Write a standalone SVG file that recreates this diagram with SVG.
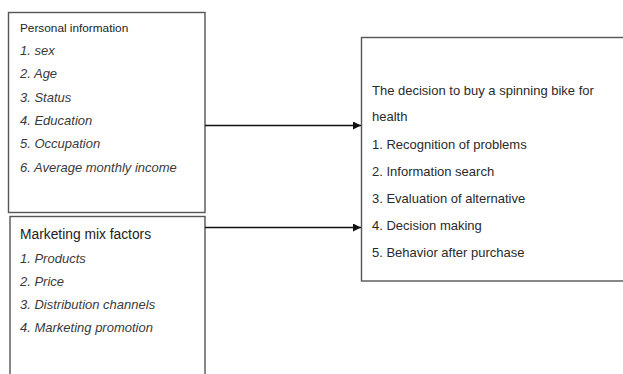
<svg xmlns="http://www.w3.org/2000/svg" width="623" height="374" viewBox="0 0 623 374">
  <style>
    .box { fill: #ffffff; stroke: #555555; stroke-width: 1.4; }
    .title { font-family: "Liberation Sans", Arial, sans-serif; fill: #222222; }
    .item { font-family: "Liberation Sans", Arial, sans-serif; font-style: italic; fill: #3a3a3a; font-size: 13px; }
    .body { font-family: "Liberation Sans", Arial, sans-serif; fill: #2a2a2a; font-size: 13px; }
    .link { stroke: #111111; stroke-width: 1.3; fill: none; marker-end: url(#arrow); }
  </style>
  <defs>
    <marker id="arrow" viewBox="0 0 10 10" refX="10" refY="5" markerWidth="10" markerHeight="8" markerUnits="userSpaceOnUse" orient="auto">
      <path d="M0,0 L10,5 L0,10 Z" fill="#111111"/>
    </marker>
  </defs>
  <rect width="623" height="374" fill="#ffffff"/>

  <g id="personal-information">
    <rect class="box" x="8.5" y="12.5" width="196.5" height="200"/>
    <text class="title" x="20" y="32" font-size="11.8">Personal information</text>
    <text class="item" x="20" y="55">1. sex</text>
    <text class="item" x="20" y="78">2. Age</text>
    <text class="item" x="20" y="101.5">3. Status</text>
    <text class="item" x="20" y="125">4. Education</text>
    <text class="item" x="20" y="148">5. Occupation</text>
    <text class="item" x="20" y="171.5">6. Average monthly income</text>
  </g>

  <g id="marketing-mix">
    <rect class="box" x="10" y="216.5" width="195" height="170"/>
    <text class="title" x="20" y="238.5" font-size="13.8">Marketing mix factors</text>
    <text class="item" x="20" y="262.5">1. Products</text>
    <text class="item" x="20" y="285.5">2. Price</text>
    <text class="item" x="20" y="309">3. Distribution channels</text>
    <text class="item" x="20" y="332">4. Marketing promotion</text>
  </g>

  <g id="purchase-decision">
    <rect class="box" x="361.5" y="37.5" width="270" height="243.5"/>
    <text class="body" x="372" y="94.5">The decision to buy a spinning bike for</text>
    <text class="body" x="372" y="120.5">health</text>
    <text class="body" x="372" y="148.5">1. Recognition of problems</text>
    <text class="body" x="372" y="175.5">2. Information search</text>
    <text class="body" x="372" y="202.5">3. Evaluation of alternative</text>
    <text class="body" x="372" y="229.5">4. Decision making</text>
    <text class="body" x="372" y="257">5. Behavior after purchase</text>
  </g>

  <g id="connectors">
    <line class="link" x1="205" y1="125.5" x2="361" y2="125.5"/>
    <line class="link" x1="205" y1="227.5" x2="361" y2="227.5"/>
  </g>
</svg>
